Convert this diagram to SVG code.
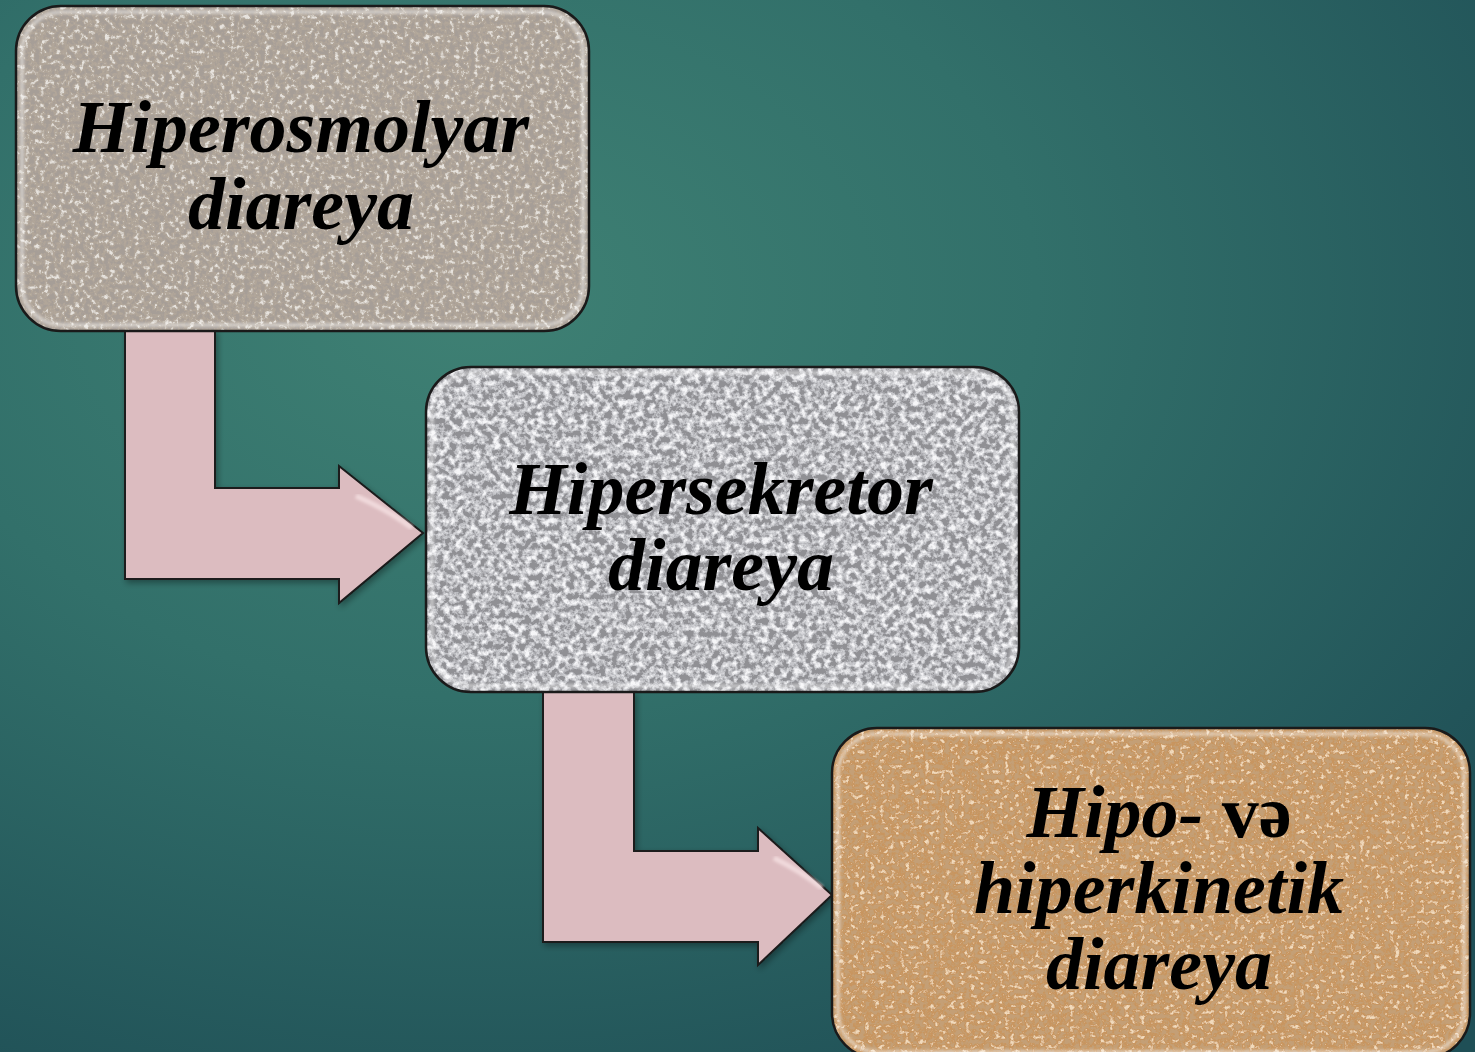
<svg xmlns="http://www.w3.org/2000/svg" width="1475" height="1052" viewBox="0 0 1475 1052">
<style>
.lbl{font-family:"Liberation Serif","Times New Roman",serif;font-weight:bold;font-style:italic;font-size:74px;fill:#000;text-anchor:middle}
.up{font-style:normal}
.box{stroke:#1a1a1a;stroke-width:2.5}
.bevel{fill:none;stroke:#ffffff;stroke-opacity:0.45;stroke-width:4}
.arrow{fill:#dcbcc0;stroke:#1a1a1a;stroke-width:2;stroke-linejoin:miter}
.arrowhl{fill:none;stroke:#f6e2e4;stroke-width:5;stroke-opacity:0.8}
</style>
<defs>
<radialGradient id="bg" cx="0.32" cy="0.28" r="0.85">
<stop offset="0" stop-color="#3f8174"/>
<stop offset="0.45" stop-color="#32706a"/>
<stop offset="1" stop-color="#1f4f56"/>
</radialGradient>
<filter id="g1" x="0" y="0" width="1" height="1">
<feTurbulence type="fractalNoise" baseFrequency="0.2" numOctaves="4" seed="3" result="n"/>
<feColorMatrix in="n" type="matrix" values="0 0 0 0 0.38  0 0 0 0 0.34  0 0 0 0 0.31  -6 0 0 0 3.15" result="dk"/>
<feColorMatrix in="n" type="matrix" values="0 0 0 0 0.8  0 0 0 0 0.77  0 0 0 0 0.73  5 0 0 0 -2.9" result="lt"/>
<feMerge result="m"><feMergeNode in="SourceGraphic"/><feMergeNode in="dk"/><feMergeNode in="lt"/></feMerge>
<feComposite in="m" in2="SourceGraphic" operator="in"/>
</filter>
<filter id="g2" x="0" y="0" width="1" height="1">
<feTurbulence type="fractalNoise" baseFrequency="0.16" numOctaves="4" seed="7" result="n"/>
<feColorMatrix in="n" type="matrix" values="0 0 0 0 0.28  0 0 0 0 0.28  0 0 0 0 0.3  -7 0 0 0 3.7" result="dk"/>
<feColorMatrix in="n" type="matrix" values="0 0 0 0 0.92  0 0 0 0 0.92  0 0 0 0 0.94  5 0 0 0 -2.7" result="lt"/>
<feMerge result="m"><feMergeNode in="SourceGraphic"/><feMergeNode in="dk"/><feMergeNode in="lt"/></feMerge>
<feComposite in="m" in2="SourceGraphic" operator="in"/>
</filter>
<filter id="g3" x="0" y="0" width="1" height="1">
<feTurbulence type="fractalNoise" baseFrequency="0.2" numOctaves="4" seed="11" result="n"/>
<feColorMatrix in="n" type="matrix" values="0 0 0 0 0.55  0 0 0 0 0.35  0 0 0 0 0.18  -6 0 0 0 3.2" result="dk"/>
<feColorMatrix in="n" type="matrix" values="0 0 0 0 0.88  0 0 0 0 0.7  0 0 0 0 0.5  5 0 0 0 -2.9" result="lt"/>
<feMerge result="m"><feMergeNode in="SourceGraphic"/><feMergeNode in="dk"/><feMergeNode in="lt"/></feMerge>
<feComposite in="m" in2="SourceGraphic" operator="in"/>
</filter>
<filter id="soft" x="-5%" y="-5%" width="110%" height="110%"><feGaussianBlur stdDeviation="1.6"/></filter>
<filter id="shadow" x="-10%" y="-10%" width="120%" height="120%"><feDropShadow dx="2" dy="3" stdDeviation="3" flood-color="#000" flood-opacity="0.35"/></filter>
</defs>
<rect width="1475" height="1052" fill="url(#bg)"/>

<g id="connectors">
<g filter="url(#shadow)">
<path class="arrow" d="M125,330 L215,330 L215,488 L339,488 L339,466 L423,533 L339,603 L339,579 L125,579 Z"/>
<path class="arrow" d="M543,692 L634,692 L634,851 L758,851 L758,828 L832,895 L758,965 L758,942 L543,942 Z"/>
</g>
<path class="arrowhl" filter="url(#soft)" d="M356,496 Q388,510 412,528"/>
<path class="arrowhl" filter="url(#soft)" d="M774,858 Q802,872 822,888"/>
</g>

<g id="node1">
<rect x="16" y="6" width="573" height="325" rx="45" fill="#b1a699" filter="url(#g1)"/>
<rect class="box" x="16" y="6" width="573" height="325" rx="45" fill="none"/>
<rect class="bevel" x="22" y="12" width="561" height="313" rx="40" filter="url(#soft)"/>
<text class="lbl" x="301" y="152">Hiperosmolyar</text>
<text class="lbl" x="301" y="229">diareya</text>
</g>

<g id="node2">
<rect x="426" y="367" width="593" height="325" rx="45" fill="#c4c5c9" filter="url(#g2)"/>
<rect class="box" x="426" y="367" width="593" height="325" rx="45" fill="none"/>
<rect class="bevel" x="432" y="373" width="581" height="313" rx="40" filter="url(#soft)"/>
<text class="lbl" x="721" y="514">Hipersekretor</text>
<text class="lbl" x="721" y="590">diareya</text>
</g>

<g id="node3">
<rect x="832" y="728" width="638" height="330" rx="45" fill="#c8955f" filter="url(#g3)"/>
<rect class="box" x="832" y="728" width="638" height="330" rx="45" fill="none"/>
<rect class="bevel" x="838" y="734" width="626" height="318" rx="40" filter="url(#soft)"/>
<text class="lbl" x="1159" y="837">Hipo- <tspan class="up">və</tspan></text>
<text class="lbl" x="1159" y="913">hiperkinetik</text>
<text class="lbl" x="1159" y="989">diareya</text>
</g>
</svg>
